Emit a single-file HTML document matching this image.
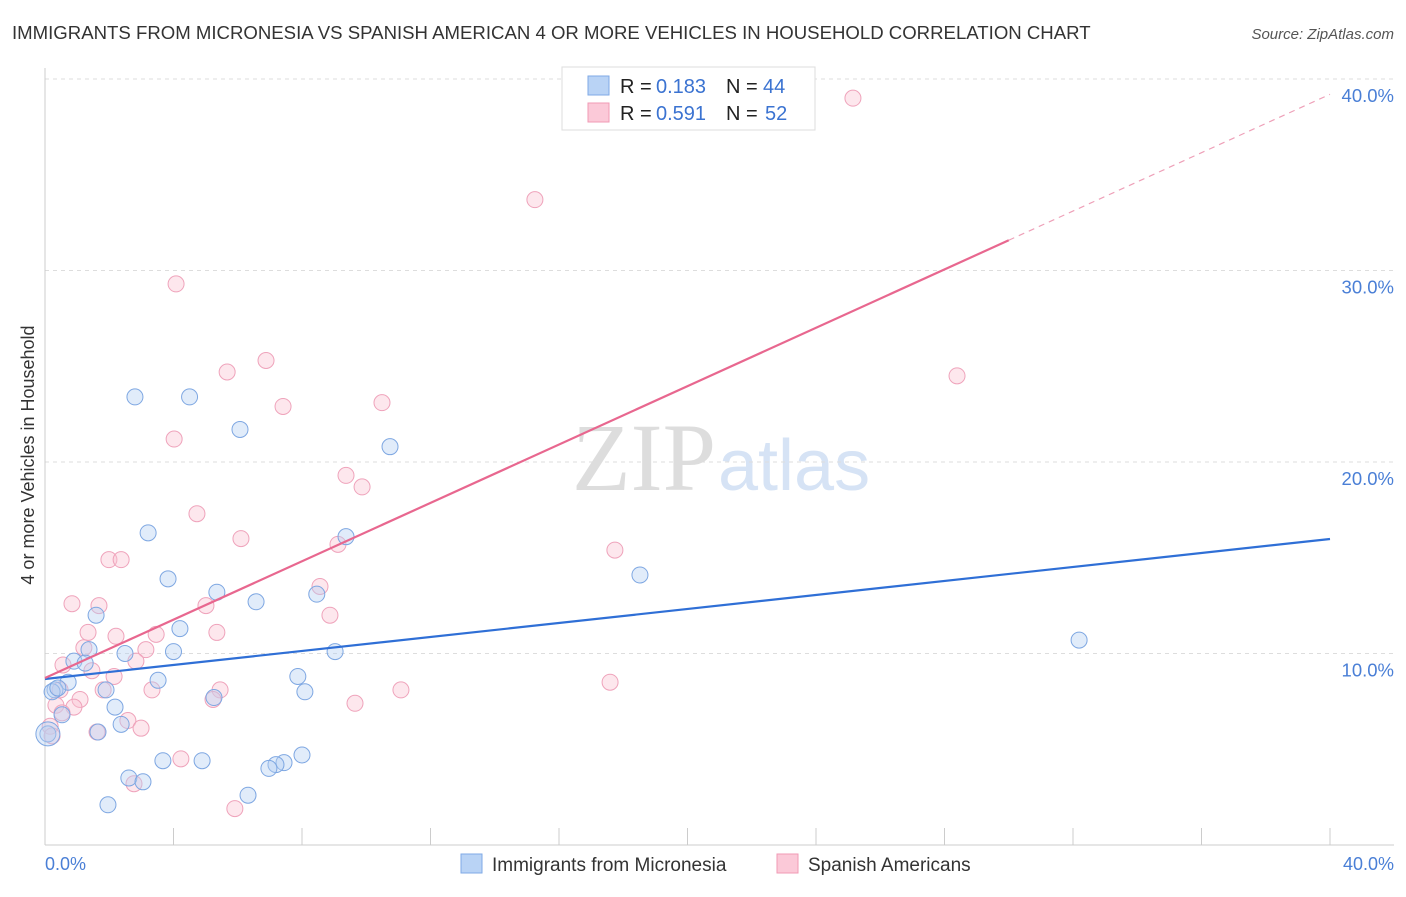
<!DOCTYPE html>
<html><head><meta charset="utf-8"><style>
body{margin:0;background:#fff;font-family:"Liberation Sans",sans-serif;}
svg text{font-family:"Liberation Sans",sans-serif;}
</style></head><body>
<svg id="c" width="1406" height="892" viewBox="0 0 1406 892">
<text x="12" y="39" font-size="18.6" fill="#333">IMMIGRANTS FROM MICRONESIA VS SPANISH AMERICAN 4 OR MORE VEHICLES IN HOUSEHOLD CORRELATION CHART</text>
<text x="1394" y="39" font-size="15" fill="#555" font-style="italic" text-anchor="end">Source: ZipAtlas.com</text>
<text x="716" y="490" font-size="96" fill="#ddd" text-anchor="end" style="font-family:'Liberation Serif',serif">ZIP</text>
<text x="718" y="490" font-size="72" fill="#d6e3f5">atlas</text>
<g id="grid"></g><g id="pts"></g><g id="lines"></g>
<text x="34" y="455" font-size="18" fill="#333" text-anchor="middle" transform="rotate(-90 34 455)">4 or more Vehicles in Household</text>
<text x="45" y="870" font-size="18" fill="#4a7fd6">0.0%</text>
<text x="1394" y="870" font-size="18" fill="#4a7fd6" text-anchor="end">40.0%</text>
<g>
<rect x="562" y="67" width="253" height="63" fill="#fff" stroke="#ddd"/>
<rect x="588" y="76" width="21" height="19" fill="#b9d3f5" stroke="#7fa9e6"/>
<rect x="588" y="103" width="21" height="19" fill="#fbc9d8" stroke="#f09ab5"/>
<text x="620" y="93" font-size="20" fill="#222">R =</text><text x="656" y="93" font-size="20" fill="#3b73d1">0.183</text>
<text x="726" y="93" font-size="20" fill="#222">N =</text><text x="763" y="93" font-size="20" fill="#3b73d1">44</text>
<text x="620" y="120" font-size="20" fill="#222">R =</text><text x="656" y="120" font-size="20" fill="#3b73d1">0.591</text>
<text x="726" y="120" font-size="20" fill="#222">N =</text><text x="765" y="120" font-size="20" fill="#3b73d1">52</text>
</g>
<g>
<rect x="461" y="854" width="21" height="19" fill="#b9d3f5" stroke="#7fa9e6"/>
<text x="492" y="871" font-size="19" fill="#333">Immigrants from Micronesia</text>
<rect x="777" y="854" width="21" height="19" fill="#fbc9d8" stroke="#f09ab5"/>
<text x="808" y="871" font-size="19" fill="#333">Spanish Americans</text>
</g>
</svg>
<script>
const yTicks=[10,20,30,40];
const xTicks=[0,4,8,12,16,20,24,28,32,36,40];
const blueX=[2.8,4.5,6.07,10.74,3.21,9.37,3.83,18.52,5.35,6.57,8.46,1.59,4.2,32.19,2.49,4.0,9.03,1.37,0.9,1.25,7.87,3.52,0.72,0.31,1.9,5.26,8.09,2.18,0.53,2.37,1.65,0.09,3.67,4.89,8.0,7.44,7.19,6.97,2.61,3.05,6.32,1.96,0.22,0.4];
const blueY=[23.4,23.4,21.7,20.8,16.3,16.1,13.9,14.1,13.2,12.7,13.1,12.0,11.3,10.7,10.0,10.1,10.1,10.2,9.6,9.5,8.8,8.6,8.5,8.1,8.1,7.7,8.0,7.2,6.8,6.3,5.9,5.8,4.4,4.4,4.7,4.3,4.2,4.0,3.5,3.3,2.6,2.1,8.0,8.2];
const pinkX=[25.15,15.25,4.08,6.88,5.67,7.41,10.49,4.02,9.37,9.87,4.73,6.1,9.12,17.74,1.99,2.37,8.56,0.84,1.68,5.01,8.87,1.34,3.46,5.35,2.21,1.21,3.14,1.46,2.83,2.15,0.56,5.45,3.33,11.08,1.81,17.59,28.39,5.23,1.09,9.65,0.34,0.9,0.53,2.58,2.99,1.62,0.16,0.22,4.23,2.77,5.91,0.47];
const pinkY=[39.0,33.7,29.3,25.3,24.7,22.9,23.1,21.2,19.3,18.7,17.3,16.0,15.7,15.4,14.9,14.9,13.5,12.6,12.5,12.5,12.0,11.1,11.0,11.1,10.9,10.3,10.2,9.1,9.6,8.8,9.4,8.1,8.1,8.1,8.1,8.5,24.5,7.6,7.6,7.4,7.3,7.2,6.9,6.5,6.1,5.9,6.2,5.7,4.5,3.2,1.9,8.1];
const blueTrend=[8.67,15.98];
const pinkTrend=[8.72,39.2];
const pinkSolidEnd=30.0;
const NS="http://www.w3.org/2000/svg";
const sx=v=>45+v*32.125, sy=v=>845-v*19.15;
function mk(tag,at,parent){const e=document.createElementNS(NS,tag);for(const k in at)e.setAttribute(k,at[k]);parent.appendChild(e);return e;}
const grid=document.getElementById('grid'),pts=document.getElementById('pts'),lines=document.getElementById('lines');
yTicks.forEach(t=>{
 const l=mk('line',{x1:45,x2:1394,y1:sy(t),y2:sy(t),stroke:'#ddd','stroke-dasharray':'4,4'},grid);
 
 
 const tx=mk('text',{x:1394,y:sy(t)+23,'font-size':18.5,fill:'#4a7fd6','text-anchor':'end'},grid);
 tx.textContent=t.toFixed(1)+'%';
 
 
});
const ax=mk('line',{x1:45,x2:1394,y1:845,y2:845,stroke:'#ccc'},grid);


const ay=mk('line',{x1:45,x2:45,y1:68,y2:845,stroke:'#ccc'},grid);


xTicks.forEach(t=>{
 const l=mk('line',{x1:sx(t),x2:sx(t),y1:828,y2:845,stroke:'#ccc'},grid);
 
 
});
function dots(X,Y,fill,stroke,name){
 X.forEach((x,i)=>{
  const c=mk('circle',{cx:sx(x),cy:sy(Y[i]),r:8,fill:fill,'fill-opacity':0.4,stroke:stroke,'stroke-width':1},pts);
  
  
 });
}
dots(pinkX,pinkY,'#fbc2d3','#efa3bb','point-spanish');
dots(blueX,blueY,'#b4cff3','#7ea7e2','point-micronesia');
const big=mk('circle',{cx:sx(blueX[31]),cy:sy(blueY[31]),r:12,fill:'#b4cff3','fill-opacity':0.4,stroke:'#7ea7e2'},pts);


const bl=mk('line',{x1:sx(0),y1:sy(blueTrend[0]),x2:sx(40),y2:sy(blueTrend[1]),stroke:'#2f6fd6','stroke-width':2.2},lines);


const pm=(pinkTrend[1]-pinkTrend[0])/40;
const pl=mk('line',{x1:sx(0),y1:sy(pinkTrend[0]),x2:sx(pinkSolidEnd),y2:sy(pinkTrend[0]+pm*pinkSolidEnd),stroke:'#e8678f','stroke-width':2.2},lines);


const pd=mk('line',{x1:sx(pinkSolidEnd),y1:sy(pinkTrend[0]+pm*pinkSolidEnd),x2:sx(40),y2:sy(pinkTrend[1]),stroke:'#eea0b8','stroke-width':1.2,'stroke-dasharray':'6,5'},lines);


</script>
</body></html>
